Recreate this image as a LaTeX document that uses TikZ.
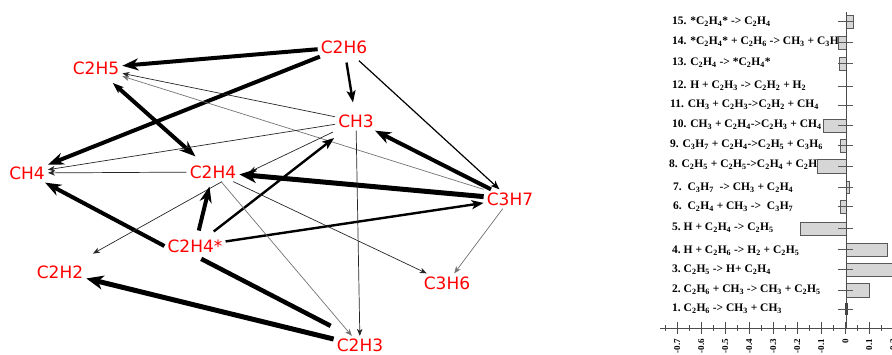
\documentclass[tikz,border=0pt]{standalone}
\usepackage{fontspec}
\setmainfont{Liberation Serif}
\newfontfamily\graphfont{DejaVu Sans}
\usetikzlibrary{arrows.meta}
\newcommand\ssb[1]{\textsubscript{#1}}
\begin{document}
\begin{tikzpicture}[x=1pt,y=-1pt,
  sp/.style={text=red, font=\graphfont\fontsize{17}{17}\selectfont, inner sep=3pt},
  ea/.style={draw=black!85, line width=0.7pt, -{Stealth[length=7pt,width=5.5pt,inset=2pt]}},
  eg/.style={draw=black!55, line width=0.7pt, -{Stealth[length=7pt,width=5.5pt,inset=2pt]}},
  eb/.style={draw=black, line width=1.2pt, -{Stealth[length=9pt,width=7pt,inset=2.5pt]}},
  ec/.style={draw=black, line width=2.4pt, -{Stealth[length=12pt,width=9pt,inset=3pt]}},
  ed/.style={draw=black, line width=4pt, -{Stealth[length=16pt,width=12pt,inset=5pt]}},
  ee/.style={draw=black, line width=5pt, -{Stealth[length=17pt,width=14pt,inset=5pt]}},
  lbl/.style={font=\bfseries\fontsize{11.5}{12}\selectfont, anchor=west, inner sep=0pt},
  barbox/.style={fill=black!16, draw=black!65, line width=0.8pt},
  errl/.style={draw=black!65, line width=0.7pt},
  axl/.style={draw=black!70, line width=0.8pt},
  tkl/.style={font=\bfseries\fontsize{9}{9}\selectfont, rotate=90, anchor=east, inner sep=0pt}
]
\useasboundingbox (0,0) rectangle (892,354);
\clip (0,0) rectangle (892,354);

% ---------- graph nodes ----------
\node[sp] (c2h6) at (344,47) {C2H6};
\node[sp] (c2h5) at (96,68) {C2H5};
\node[sp] (ch3) at (356,121) {CH3};
\node[sp] (ch4) at (27,173) {CH4};
\node[sp] (c2h4) at (213,172) {C2H4};
\node[sp] (c2h4s) at (195,246) {C2H4*};
\node[sp] (c2h2) at (60,272) {C2H2};
\node[sp] (c2h3) at (360,345.5) {C2H3};
\node[sp] (c3h7) at (510,199) {C3H7};
\node[sp] (c3h6) at (447,283) {C3H6};

% ---------- graph edges ----------
\draw[ed] (c2h6) -- (c2h5);
\draw[ed] (c2h6) -- (ch4);
\draw[ec, shorten <=6pt, shorten >=9pt] (c2h6) -- (ch3);
\draw[eb, shorten <=6pt] (c2h6) -- (c3h7);
\draw[ed, {Stealth[length=11pt,width=8pt,inset=3pt]}-{Stealth[length=16pt,width=12pt,inset=5pt]}, shorten <=8pt, shorten >=9pt] (c2h5) -- (c2h4);
\draw[ea] (ch3) -- (c2h5);
\draw[eg] (c3h7.north west) -- (c2h5);
\draw[ea] (ch3) -- (ch4);
\draw[ea] (c2h4) -- (ch4);
\draw[ed] (c2h4s.west) -- (ch4);
\draw[ea, shorten >=18pt] ([xshift=9pt]c2h4.south) -- (c2h2);
\draw[ed, shorten <=6pt, shorten >=5pt] (c2h4s) -- (c2h4);
\draw[ec, shorten <=8pt, shorten >=12pt] (c2h4s) -- (ch3);
\draw[ea] ([xshift=-2pt,yshift=-11pt]ch3.west) -- ([xshift=10pt]c2h4.east);
\draw[ee] (c3h7) -- (c2h4);
\draw[ed] (c3h7) -- (ch3);
\draw[ec] (c2h4s) -- (c3h7);
\draw[ea] (c2h4) -- (c3h6);
\draw[eg] (c2h4) -- (c2h3);
\draw[ea] (ch3) -- (c2h3);
\draw[eg] (c3h7) -- (c3h6);
\draw[ee] (c2h3) -- (c2h2);
\draw[draw=black, line width=4.5pt, shorten >=7pt] ([xshift=-3pt,yshift=10pt]c2h3.north west) -- (c2h4s.south);

% ---------- chart labels ----------
\node[lbl] (r15) at (672,22) {15. *C\ssb{2}H\ssb{4}* -> C\ssb{2}H\ssb{4}};
\node[lbl] (r14) at (672,42) {14. *C\ssb{2}H\ssb{4}* + C\ssb{2}H\ssb{6} -> CH\ssb{3} + C\ssb{3}H\ssb{7}};
\node[lbl] (r13) at (672,63) {13. C\ssb{2}H\ssb{4} -> *C\ssb{2}H\ssb{4}*};
\node[lbl] (r12) at (672,86) {12. H + C\ssb{2}H\ssb{3} -> C\ssb{2}H\ssb{2} + H\ssb{2}};
\node[lbl] (r11) at (670,105) {11. CH\ssb{3} + C\ssb{2}H\ssb{3}->C\ssb{2}H\ssb{2} + CH\ssb{4}};
\node[lbl] (r10) at (672,125) {10. CH\ssb{3} + C\ssb{2}H\ssb{4}->C\ssb{2}H\ssb{3} + CH\ssb{4}};
\node[lbl] (r9) at (670,145) {9. C\ssb{3}H\ssb{7} + C\ssb{2}H\ssb{4}->C\ssb{2}H\ssb{5} + C\ssb{3}H\ssb{6}};
\node[lbl] (r8) at (669,165) {8. C\ssb{2}H\ssb{5} + C\ssb{2}H\ssb{5}->C\ssb{2}H\ssb{4} + C\ssb{2}H\ssb{6}};
\node[lbl] (r7) at (673,188) {7.\ \ C\ssb{3}H\ssb{7}\ \ -> CH\ssb{3} + C\ssb{2}H\ssb{4}};
\node[lbl] (r6) at (673,207) {6.\ \ C\ssb{2}H\ssb{4} + CH\ssb{3} ->\ \ C\ssb{3}H\ssb{7}};
\node[lbl] (r5) at (672,228) {5.\ H + C\ssb{2}H\ssb{4} -> C\ssb{2}H\ssb{5}};
\node[lbl] (r4) at (672,251) {4.\ H + C\ssb{2}H\ssb{6} -> H\ssb{2} + C\ssb{2}H\ssb{5}};
\node[lbl] (r3) at (672,270) {3.\ C\ssb{2}H\ssb{5} -> H+ C\ssb{2}H\ssb{4}};
\node[lbl] (r2) at (672,290) {2.\ C\ssb{2}H\ssb{6} + CH\ssb{3} -> CH\ssb{3} + C\ssb{2}H\ssb{5}};
\node[lbl] (r1) at (672,309) {1.\ C\ssb{2}H\ssb{6} -> CH\ssb{3} + CH\ssb{3}};

% ---------- bars ----------
\draw[barbox] (846,15) rectangle (853,28);
\draw[barbox] (838,36) rectangle (846,49);
\draw[barbox] (839,57) rectangle (846,70);
\draw[barbox] (823,119) rectangle (846,132);
\draw[barbox] (840,139) rectangle (846,152);
\draw[barbox] (817,159) rectangle (846,173);
\draw[barbox] (846,181) rectangle (849,193);
\draw[barbox] (840,200) rectangle (846,213);
\draw[barbox] (800,222) rectangle (846,235);
\draw[barbox] (846,243) rectangle (887,256);
\draw[barbox] (846,263) rectangle (900,276);
\draw[barbox] (846,283) rectangle (869,297);
\fill[black!75] (844.8,303) rectangle (847.6,315);

% error lines
\foreach \yy in {21.5,42.5,63.5,86,105,125.5,145.5,166,187,206.5,228.5,249.5,269.5,290,309}
  \draw[errl] (838,\yy) -- (853,\yy);

% axes
\draw[axl] (846,12) -- (846,328);
\draw[axl] (660,328) -- (892,328);
\foreach \k in {0,...,9}
  \draw[axl] ({677.3+24*\k},322) -- ({677.3+24*\k},334);
\foreach \k in {0,...,9}
  \draw[axl] ({665.3+24*\k},325) -- ({665.3+24*\k},331);
\foreach \k/\v in {0/-0.7,1/-0.6,2/-0.5,3/-0.4,4/-0.3,5/-0.2,6/-0.1,7/0,8/0.1,9/0.2}
  \node[tkl] at ({677.3+24*\k},339) {\v};
\end{tikzpicture}
\end{document}
